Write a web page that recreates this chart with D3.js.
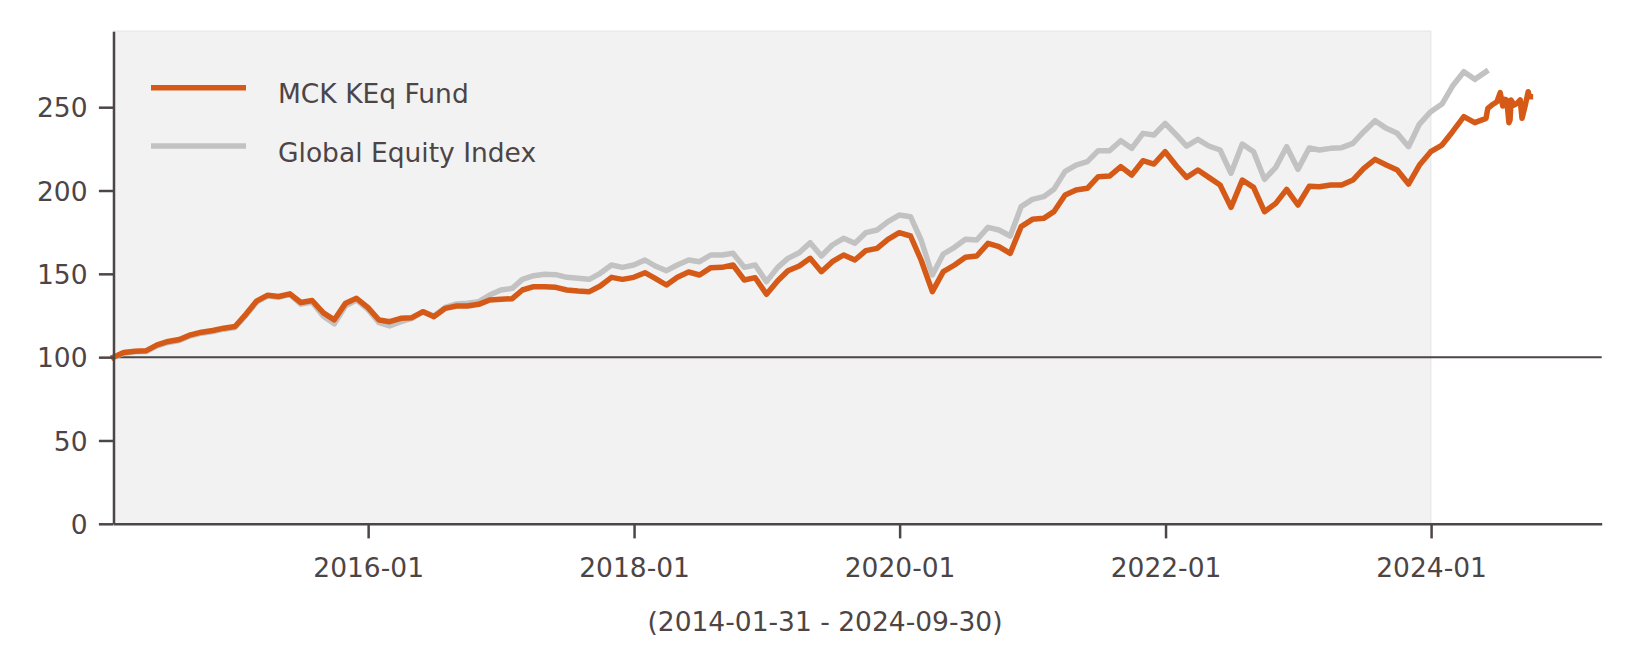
<!DOCTYPE html>
<html><head><meta charset="utf-8">
<script src="https://cdn.jsdelivr.net/npm/d3@7"></script>
<style>
body{margin:0;background:#fff}
svg{display:block}
</style>
</head><body>
<svg id="chart" width="1633" height="667"></svg>
<script>
// ---------------- DATA ----------------
const seriesNames = ["MCK KEq Fund", "Global Equity Index"];
const firstMonthEnd = "2014-01-31";   // monthly series start (month-end values)

const fundMonthly = [
 100.0,102.8,103.6,103.8,107.4,109.4,110.6,113.4,115.0,116.0,117.4,118.4,
 126.0,133.6,137.2,136.4,138.0,132.8,134.0,126.6,122.4,132.4,135.3,129.9,
 122.3,121.3,123.3,123.7,127.3,124.3,129.3,130.7,130.7,131.7,134.3,134.7,
 135.1,140.3,142.3,142.3,141.9,140.3,139.7,139.3,142.7,147.9,146.7,147.9,
 150.7,147.3,143.3,147.9,151.1,149.3,153.7,153.9,155.3,146.3,147.7,137.7,
 145.9,151.9,154.7,159.3,151.3,157.3,161.3,158.3,163.9,165.3,170.7,174.7,
 172.7,158.3,139.3,151.3,155.3,159.9,160.7,168.3,166.3,162.3,178.3,182.7,
 183.3,187.3,197.3,200.3,201.3,208.3,208.7,214.3,209.3,217.9,215.9,223.3,
 214.7,207.9,212.3,207.9,203.3,189.9,206.3,201.9,187.3,192.3,200.7,191.3,
 202.5,202.3,203.3,203.3,206.3,213.3,218.7,215.3,212.3,203.9,215.3,223.3,
 227.3,235.3,244.3,240.7,243.3
];
const fundTailDates = [
 "2024-06-05","2024-06-16","2024-06-30","2024-07-09","2024-07-16","2024-07-22",
 "2024-07-27","2024-08-02","2024-08-05","2024-08-08","2024-08-16","2024-08-24",
 "2024-09-02","2024-09-07","2024-09-15","2024-09-24","2024-09-27","2024-09-30"
];
const fundTailValues = [
 249.3,251.3,253.3,258.7,250.7,254.7,
 254.3,240.7,242.3,254.3,251.3,252.3,
 254.3,243.3,250.3,259.3,256.3,256.3
];
const indexMonthly = [
 100.0,102.4,103.2,103.4,106.8,108.8,110.0,112.8,114.4,115.4,116.8,117.8,
 125.4,133.0,136.8,136.0,137.6,131.8,133.0,124.6,120.0,130.8,134.3,128.7,
 120.7,118.7,121.3,123.3,127.3,124.7,129.9,131.9,132.3,133.3,137.3,140.3,
 141.3,146.7,148.9,149.7,149.5,147.9,147.3,146.7,150.3,155.3,153.9,155.3,
 158.3,154.7,151.9,155.3,158.3,157.3,161.3,161.3,162.3,153.9,155.3,145.3,
 153.9,159.3,162.7,168.7,160.7,167.3,171.3,168.3,174.7,176.3,181.3,185.3,
 184.3,170.3,149.3,161.9,165.9,170.7,170.3,177.9,176.3,172.7,190.3,194.7,
 196.3,200.7,211.5,215.3,217.3,223.9,223.9,229.9,225.3,234.3,233.3,240.3,
 233.3,226.7,230.7,226.7,224.3,210.3,227.9,223.3,206.7,213.9,226.3,212.7,
 225.5,224.3,225.3,225.7,228.3,235.3,241.9,237.3,234.3,226.3,239.9,247.3,
 251.9,262.7,271.3,266.7,271.3
];
const xTickLabels = ["2016-01","2018-01","2020-01","2022-01","2024-01"];
const yTickValues = [0,50,100,150,200,250];
const periodLabel = "(2014-01-31 - 2024-09-30)";
const shadeEndDate = "2023-12-31";
const referenceLevel = 100;

// ---------------- LAYOUT / STYLE ----------------
const W = 1633, H = 667;
const L = 113.5, R = 1601.7, T = 31.2, B = 523.8;
const FS = 26.5;
const INK = "#4d4545", AXIS = "#4d4646";
const ORANGE = "#d55a18", GREY = "#c2c2c2";
const LW = 5.5;

const parse = d3.utcParse("%Y-%m-%d");
const start = parse(firstMonthEnd);
const monthEnd = i => new Date(Date.UTC(start.getUTCFullYear(), start.getUTCMonth() + i + 1, 0));

const fundData = fundMonthly.map((v, i) => ({d: monthEnd(i), v}))
  .concat(fundTailDates.map((s, i) => ({d: parse(s), v: fundTailValues[i]})));
const indexData = indexMonthly.map((v, i) => ({d: monthEnd(i), v}));

const x = d3.scaleUtc().domain([start, parse("2025-04-14")]).range([L, R]);
const y = d3.scaleLinear().domain([0, 295.6]).range([B, T]);

const svg = d3.select("#chart");
svg.append("rect").attr("width", W).attr("height", H).attr("fill", "#fff");

// shaded period
svg.append("rect")
  .attr("x", L).attr("y", T)
  .attr("width", x(parse(shadeEndDate)) - L).attr("height", B - T)
  .attr("fill", "#f2f2f2").attr("stroke", "#eaeaea").attr("stroke-width", 1.5);

// reference line at 100
svg.append("line")
  .attr("x1", L).attr("x2", R).attr("y1", y(referenceLevel)).attr("y2", y(referenceLevel))
  .attr("stroke", AXIS).attr("stroke-width", 2);

const line = d3.line().x(d => x(d.d)).y(d => y(d.v));
svg.append("path").datum(indexData).attr("d", line)
  .attr("fill", "none").attr("stroke", GREY).attr("stroke-width", LW)
  .attr("stroke-linejoin", "round").attr("stroke-linecap", "square");
svg.append("path").datum(fundData).attr("d", line)
  .attr("fill", "none").attr("stroke", ORANGE).attr("stroke-width", LW)
  .attr("stroke-linejoin", "round").attr("stroke-linecap", "square");

// axes
const fmt = d3.utcFormat("%Y-%m");
const xTickDates = xTickLabels.map(s => parse(s + "-01"));
const gx = svg.append("g").attr("transform", `translate(0,${B})`)
  .call(d3.axisBottom(x).tickValues(xTickDates).tickFormat(fmt).tickSize(14.6).tickSizeOuter(0));
const gy = svg.append("g").attr("transform", `translate(${L},0)`)
  .call(d3.axisLeft(y).tickValues(yTickValues).tickFormat(d3.format("d")).tickSize(14.6).tickSizeOuter(0));

[gx, gy].forEach(g => {
  g.attr("font-family", null).attr("font-size", null);
  g.select(".domain").attr("stroke", AXIS).attr("stroke-width", 2.5);
  g.selectAll(".tick line").attr("stroke", AXIS).attr("stroke-width", 2.5);
  g.selectAll(".tick text")
    .attr("fill", INK).style("font-family", "'DejaVu Sans', sans-serif").style("font-size", FS + "px");
});
gx.selectAll(".tick text").attr("y", 53.6).attr("dy", 0);
gy.selectAll(".tick text").attr("x", -26).attr("dy", "0.36em");

// x-axis period label
svg.append("text").attr("x", 825).attr("y", 630.5).attr("text-anchor", "middle")
  .attr("fill", INK).style("font-family", "'DejaVu Sans', sans-serif").style("font-size", FS + "px")
  .text(periodLabel);

// legend
const legend = [
  {name: seriesNames[0], color: ORANGE, ly: 87.8, ty: 103.3},
  {name: seriesNames[1], color: GREY, ly: 146, ty: 161.5}
];
legend.forEach(it => {
  svg.append("line").attr("x1", 151).attr("x2", 246).attr("y1", it.ly).attr("y2", it.ly)
    .attr("stroke", it.color).attr("stroke-width", LW);
  svg.append("text").attr("x", 278).attr("y", it.ty).attr("fill", INK)
    .style("font-family", "'DejaVu Sans', sans-serif").style("font-size", FS + "px").text(it.name);
});
</script>
</body></html>
